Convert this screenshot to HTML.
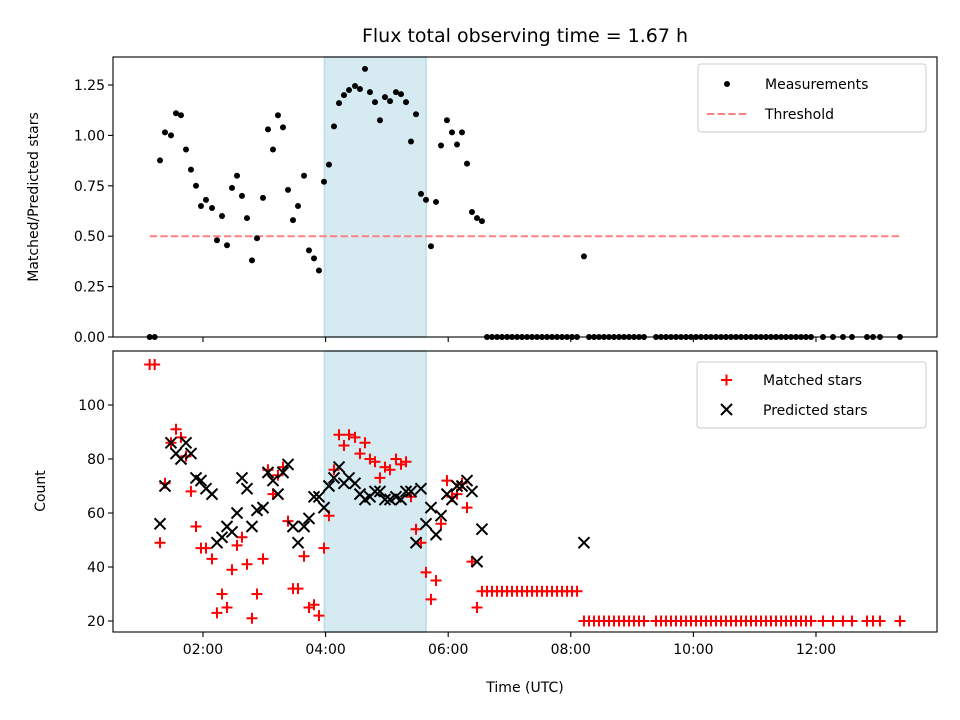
<!DOCTYPE html>
<html><head><meta charset="utf-8"><style>
html,body{margin:0;padding:0;background:#fff;}
svg{display:block;font-family:"DejaVu Sans","Liberation Sans",sans-serif;}
</style></head><body>
<svg id="fig" width="960" height="720" viewBox="0 0 960 720"></svg>
<script>
const times=[1.130,1.212,1.299,1.380,1.478,1.560,1.641,1.723,1.804,1.886,1.967,2.049,2.147,2.228,2.310,2.392,2.473,2.555,2.636,2.718,2.799,2.881,2.979,3.060,3.142,3.223,3.305,3.387,3.468,3.550,3.648,3.729,3.811,3.892,3.974,4.055,4.137,4.219,4.300,4.382,4.480,4.561,4.643,4.724,4.806,4.887,4.969,5.051,5.148,5.230,5.312,5.393,5.475,5.556,5.638,5.719,5.801,5.883,5.980,6.062,6.144,6.225,6.307,6.388,6.470,6.551,
6.633,6.715,6.797,6.878,6.960,7.041,7.123,7.204,7.286,7.368,7.449,7.531,7.612,7.694,7.775,7.857,7.939,8.020,8.102,
8.215,
8.297,8.379,8.460,8.542,8.623,8.705,8.787,8.868,8.950,9.031,9.113,9.194,
9.390,9.472,9.553,9.635,9.716,9.798,9.880,9.961,10.043,10.124,10.206,10.287,10.369,10.451,10.532,10.614,10.695,10.777,10.858,10.940,11.022,11.103,11.185,11.266,11.348,11.430,11.511,11.593,11.674,11.756,11.837,11.919,
12.114,12.277,12.440,12.587,12.832,12.930,13.044,13.370];
const ratio=[0,0,0.876,1.015,1.0,1.11,1.10,0.93,0.83,0.75,0.65,0.68,0.64,0.48,0.60,0.455,0.74,0.80,0.70,0.59,0.38,0.49,0.69,1.03,0.93,1.10,1.04,0.73,0.58,0.65,0.80,0.43,0.39,0.33,0.77,0.855,1.045,1.16,1.20,1.225,1.245,1.23,1.33,1.215,1.165,1.075,1.19,1.17,1.215,1.205,1.165,0.97,1.105,0.71,0.68,0.45,0.67,0.95,1.075,1.015,0.955,1.015,0.86,0.62,0.59,0.575,
0,0,0,0,0,0,0,0,0,0,0,0,0,0,0,0,0,0,0,
0.40,
0,0,0,0,0,0,0,0,0,0,0,0,
0,0,0,0,0,0,0,0,0,0,0,0,0,0,0,0,0,0,0,0,0,0,0,0,0,0,0,0,0,0,0,0,
0,0,0,0,0,0,0,0];
const matched=[115,115,49,71,86,91,88,81,68,55,47,47,43,23,30,25,39,48,51,41,21,30,43,76,67,74,77,57,32,32,44,25,26,22,47,59,76,89,85,89,88,82,86,80,79,73,77,76,80,78,79,66,54,49,38,28,35,56,72,66,67,71,62,42,25,31,
31,31,31,31,31,31,31,31,31,31,31,31,31,31,31,31,31,31,31,
20,
20,20,20,20,20,20,20,20,20,20,20,20,
20,20,20,20,20,20,20,20,20,20,20,20,20,20,20,20,20,20,20,20,20,20,20,20,20,20,20,20,20,20,20,20,
20,20,20,20,20,20,20,20];
const predicted=[null,null,56,70,86,82,80,86,82,73,72,69,67,49,51,55,53,60,73,69,55,61,62,75,72,67,75,78,55,49,55,58,66,66,62,70,73,77,71,73,71,67,65,66,68,68,65,65,66,65,68,68,49,69,56,62,52,59,67,65,70,70,72,68,42,54,
null,null,null,null,null,null,null,null,null,null,null,null,null,null,null,null,null,null,null,
49,
null,null,null,null,null,null,null,null,null,null,null,null,
null,null,null,null,null,null,null,null,null,null,null,null,null,null,null,null,null,null,null,null,null,null,null,null,null,null,null,null,null,null,null,null,
null,null,null,null,null,null,null,null];
const ratioTicks=[0,0.25,0.5,0.75,1.0,1.25];
const ratioTickLabels=["0.00","0.25","0.50","0.75","1.00","1.25"];
const countTicks=[20,40,60,80,100];
const timeTicks=[2,4,6,8,10,12];
const timeTickLabels=["02:00","04:00","06:00","08:00","10:00","12:00"];
const threshold=[0.5];
const thresholdRange=[1.13,13.37];
const windowRange=[3.98,5.64];

const NS="http://www.w3.org/2000/svg";
const svg=document.getElementById('fig');
function mk(tag,attrs,parent){const e=document.createElementNS(NS,tag);for(const k in attrs)e.setAttribute(k,attrs[k]);(parent||svg).appendChild(e);return e;}
const AX={l:113,r:937};
const T={t:57,b:337}, B={t:351,b:632};
const xmin=0.532,xmax=13.974;
function X(t){return AX.l+(t-xmin)/(xmax-xmin)*(AX.r-AX.l);}
const rMin=0,rMax=1.389;
function YR(v){return T.b-(v-rMin)/(rMax-rMin)*(T.b-T.t);}
const cMin=15.93,cMax=120;
function YC(v){return B.b-(v-cMin)/(cMax-cMin)*(B.b-B.t);}

function txt(x,y,s,size,anchor,name,extra){const e=mk('text',Object.assign({x:x,y:y,'font-size':size,'text-anchor':anchor||'middle',fill:'#000'},extra||{}));e.textContent=s;return e;}

// title
txt(525,42,"Flux total observing time = 1.67 h",19,'middle','chart-title');

// shaded windows
[T,B].forEach((P,i)=>{
  const r=mk('rect',{x:X(windowRange[0]),y:P.t,width:X(windowRange[1])-X(windowRange[0]),height:P.b-P.t,fill:'#d5eaf1',stroke:'#bcdde8','stroke-width':1.5});
  
  
});

// threshold
const th=mk('line',{x1:X(thresholdRange[0]),x2:X(thresholdRange[1]),y1:YR(threshold[0]),y2:YR(threshold[0]),stroke:'#ff8080','stroke-width':2,'stroke-dasharray':'7.4,3.2'});



// measurements
const gm=mk('g',{});


times.forEach((t,i)=>{
  const c=mk('circle',{cx:X(t),cy:YR(ratio[i]),r:3,fill:'#000'},gm);
  
  
});

// matched
const gp=mk('g',{});


times.forEach((t,i)=>{
  if(matched[i]==null)return;
  const x=X(t),y=YC(matched[i]),s=5.5;
  const p=mk('path',{d:`M${x-s},${y}H${x+s}M${x},${y-s}V${y+s}`,stroke:'#ff0000','stroke-width':2,fill:'none'},gp);
  
  
});
// predicted
const gx=mk('g',{});


times.forEach((t,i)=>{
  if(predicted[i]==null)return;
  const x=X(t),y=YC(predicted[i]),s=5.5;
  const p=mk('path',{d:`M${x-s},${y-s}L${x+s},${y+s}M${x-s},${y+s}L${x+s},${y-s}`,stroke:'#000','stroke-width':2,fill:'none'},gx);
  
  
});

// axes frames
[T,B].forEach((P,i)=>{
  const r=mk('rect',{x:AX.l,y:P.t,width:AX.r-AX.l,height:P.b-P.t,fill:'none',stroke:'#000','stroke-width':1.1});
  
  
});
// x ticks
timeTicks.forEach((t,i)=>{
  [T,B].forEach(P=>{
    const l=mk('line',{x1:X(t),x2:X(t),y1:P.b,y2:P.b+5,stroke:'#000','stroke-width':1.1});
    
    
  });
  txt(X(t),P2y=B.b+22,timeTickLabels[i],14,'middle','x-tick-label');
});
var P2y;
// y ticks top
ratioTicks.forEach((v,i)=>{
  const l=mk('line',{x1:AX.l-5,x2:AX.l,y1:YR(v),y2:YR(v),stroke:'#000','stroke-width':1.1});
  
  
  txt(AX.l-8,YR(v)+5,ratioTickLabels[i],14,'end','y-tick-label-top');
});
countTicks.forEach(v=>{
  const l=mk('line',{x1:AX.l-5,x2:AX.l,y1:YC(v),y2:YC(v),stroke:'#000','stroke-width':1.1});
  
  
  txt(AX.l-8,YC(v)+5,String(v),14,'end','y-tick-label-bottom');
});
// axis titles
txt(525,692,"Time (UTC)",14,'middle','x-axis-title');
txt(38,197,"Matched/Predicted stars",14,'middle','y-axis-title-top',{transform:'rotate(-90 38 197)'});
txt(45,491,"Count",14,'middle','y-axis-title-bottom',{transform:'rotate(-90 45 491)'});

// legends
const lg1=mk('g',{});


mk('rect',{x:698,y:64,width:228,height:68,rx:3,fill:'#fff','fill-opacity':0.8,stroke:'#ccc','stroke-width':1},lg1);
mk('circle',{cx:727,cy:84,r:3,fill:'#000'},lg1);
txt(765,89,"Measurements",14,'start','legend-entry-measurements');
mk('line',{x1:707,x2:747,y1:114,y2:114,stroke:'#ff8080','stroke-width':2,'stroke-dasharray':'7.4,3.2'},lg1);
txt(765,119,"Threshold",14,'start','legend-entry-threshold');
const lg2=mk('g',{});


mk('rect',{x:697,y:362,width:229,height:66,rx:3,fill:'#fff','fill-opacity':0.8,stroke:'#ccc','stroke-width':1},lg2);
mk('path',{d:'M721,380H732M726.5,374.5V385.5',stroke:'#ff0000','stroke-width':2},lg2);
txt(763,385,"Matched stars",14,'start','legend-entry-matched');
mk('path',{d:'M721,404L732,415M721,415L732,404',stroke:'#000','stroke-width':2},lg2);
txt(763,415,"Predicted stars",14,'start','legend-entry-predicted');
</script>
</body></html>
